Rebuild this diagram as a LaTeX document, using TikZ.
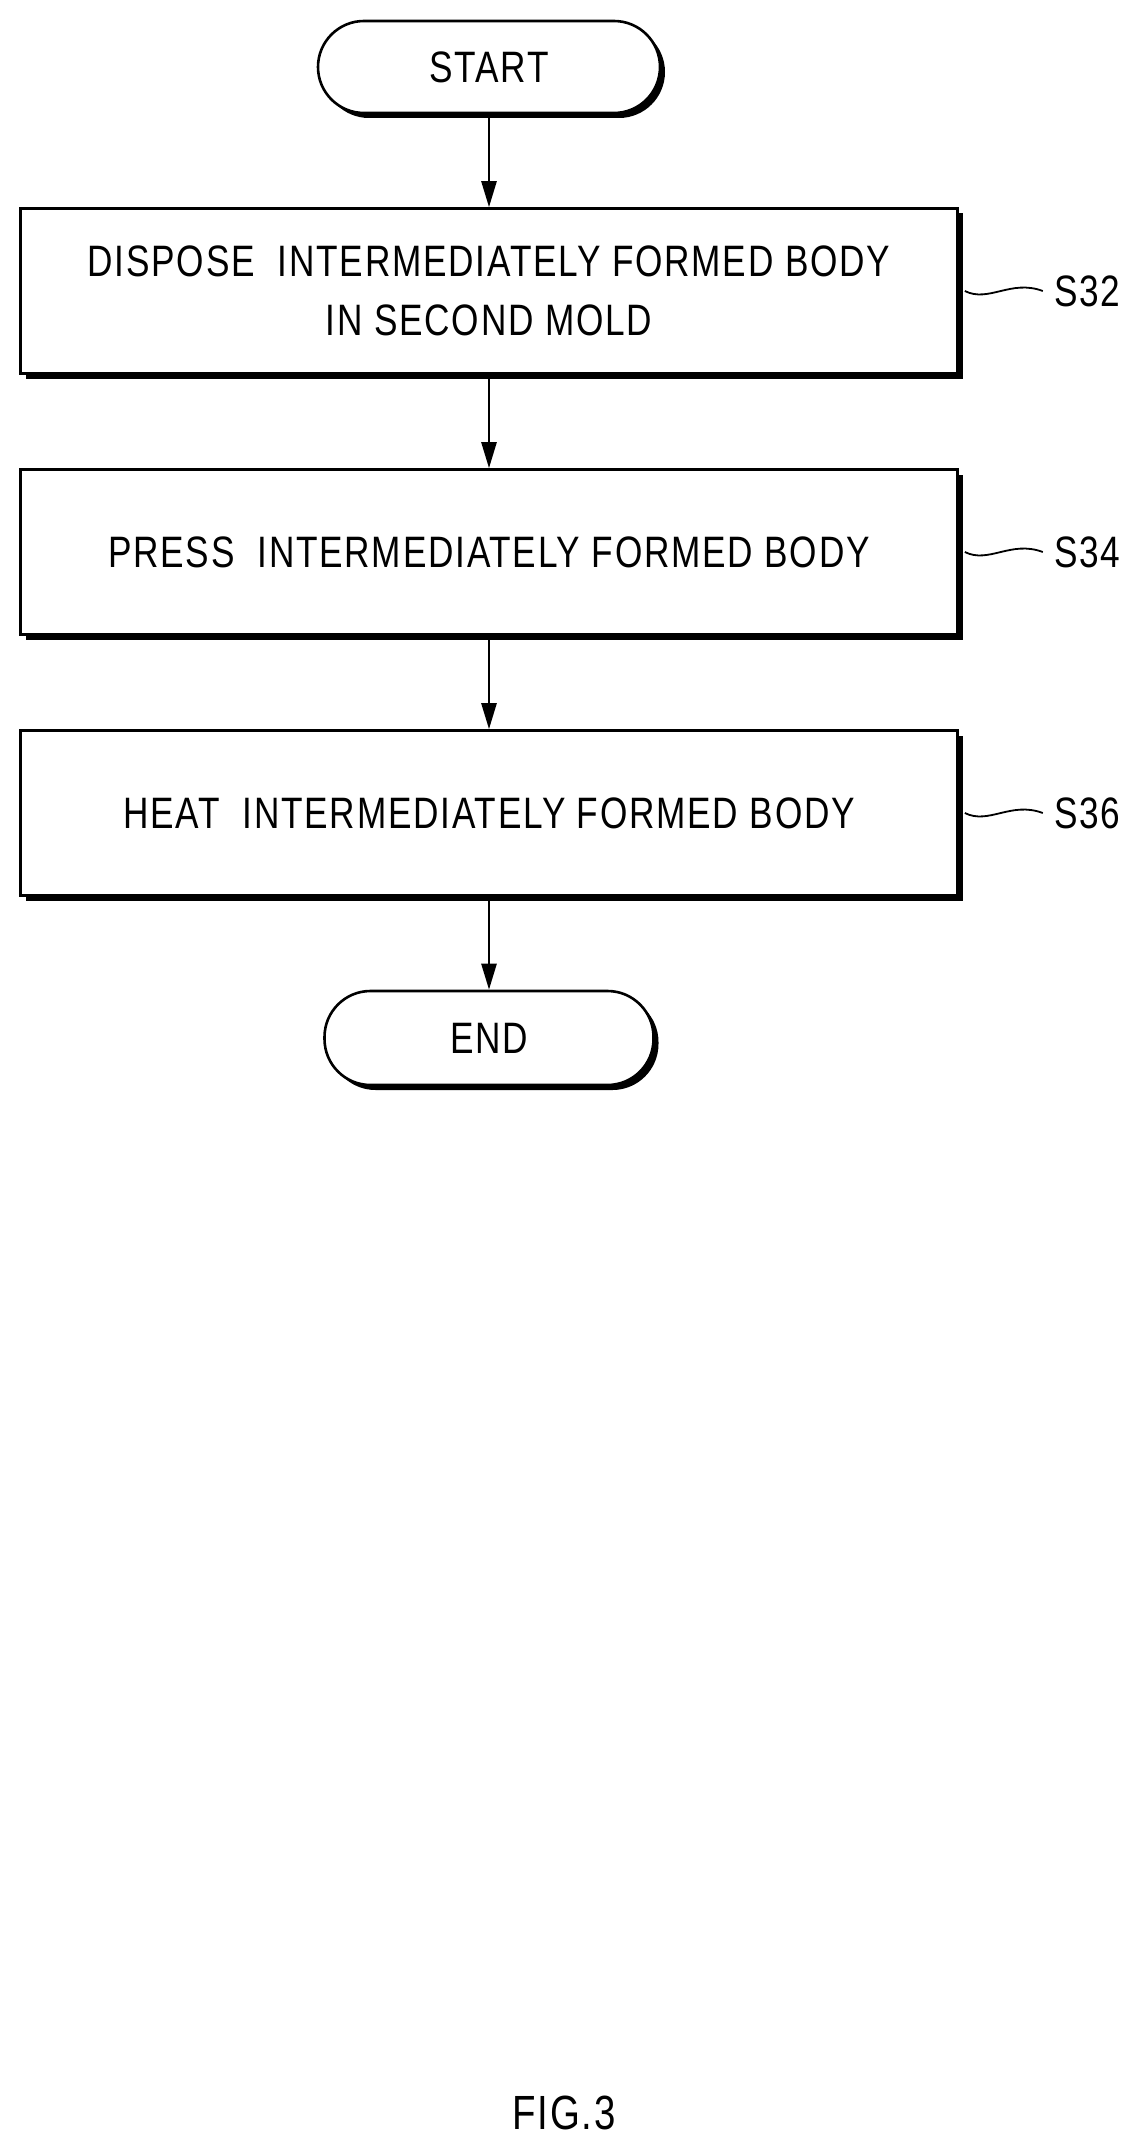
\documentclass[tikz,border=0pt]{standalone}
\usepackage{fontspec}
\newfontfamily\df[FakeStretch=0.8,LetterSpace=4]{Liberation Sans}
\usetikzlibrary{arrows.meta,shadows}
\begin{document}
\begin{tikzpicture}[x=1pt,y=-1pt,
  shd/.style={drop shadow={shadow xshift=5pt,shadow yshift=-5pt,opacity=1,fill=black}},
  box/.style={draw,line width=2.6pt,fill=white,minimum width=937pt,minimum height=165pt,align=center,font=\df\fontsize{44}{59}\selectfont,shd},
  term/.style={draw,line width=2.6pt,fill=white,rounded corners=46pt,font=\df\fontsize{44}{50}\selectfont,shd},
  arr/.style={line width=2.6pt,-{Triangle[length=26pt,width=15pt]}},
  lab/.style={font=\df\fontsize{44}{50}\selectfont,anchor=west}]
\useasboundingbox (0,0) rectangle (1141,2154);
\node[term,minimum width=342pt,minimum height=92pt] (st) at (489,67) {START};
\node[box] (b1) at (489,291) {DISPOSE\ \ INTERMEDIATELY FORMED BODY\\IN SECOND MOLD};
\node[box] (b2) at (489,552) {PRESS\ \ INTERMEDIATELY FORMED BODY};
\node[box] (b3) at (489,813) {HEAT\ \ INTERMEDIATELY FORMED BODY};
\node[term,minimum width=329pt,minimum height=94pt] (en) at (489,1038) {END};
\draw[arr] (st) -- (b1);
\draw[arr] (b1) -- (b2);
\draw[arr] (b2) -- (b3);
\draw[arr] (b3) -- (en);
\foreach \b/\t in {b1/S32,b2/S34,b3/S36}{
  \node[lab] (l\t) at ([xshift=92pt]\b.east) {\t};
  \draw[line width=1.8pt] ([xshift=6pt]\b.east) .. controls ([xshift=30pt,yshift=-12pt]\b.east) and ([xshift=52pt,yshift=12pt]\b.east) .. ([xshift=84pt]\b.east);
}
\node[font=\df\fontsize{48}{54}\selectfont] (fig) at (564,2113) {FIG.3};
\end{tikzpicture}
\end{document}
